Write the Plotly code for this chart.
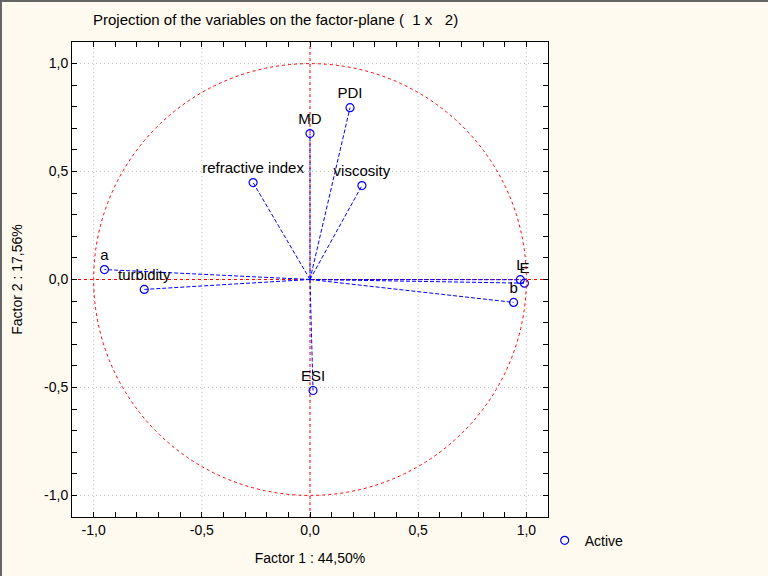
import plotly.graph_objects as go

# variable coordinates on factor 1 x factor 2
var_names = ["a", "turbidity", "refractive index", "MD", "PDI", "viscosity", "ESI", "b", "L", "E"]
factor1 = [-0.95, -0.766, -0.263, 0.0, 0.185, 0.24, 0.014, 0.941, 0.972, 0.991]
factor2 = [0.046, -0.046, 0.449, 0.676, 0.796, 0.435, -0.514, -0.106, -0.001, -0.017]

grid_vals = [-1.0, -0.5, 0.0, 0.5, 1.0]
tick_vals = [-1.0, -0.9, -0.8, -0.7, -0.6, -0.5, -0.4, -0.3, -0.2, -0.1, 0.0,
             0.1, 0.2, 0.3, 0.4, 0.5, 0.6, 0.7, 0.8, 0.9, 1.0]
tick_text = ["-1,0", "", "", "", "", "-0,5", "", "", "", "", "0,0",
             "", "", "", "", "0,5", "", "", "", "", "1,0"]

font = "Liberation Sans, Arial, sans-serif"
blue = "#0000ff"
grid_line = {"color": "#c0c0c0", "width": 1, "dash": "1px,3px"}

fig = go.Figure()

# dotted grid at the labelled ticks
for g in grid_vals:
  fig.add_trace(go.Scatter(x=[g, g], y=[-1.1, 1.1], mode="lines", line=grid_line,
                           showlegend=False, hoverinfo="skip"))
  fig.add_trace(go.Scatter(x=[-1.1, 1.1], y=[g, g], mode="lines", line=grid_line,
                           showlegend=False, hoverinfo="skip"))

# axes through the origin
fig.add_trace(go.Scatter(x=[0, 0], y=[-1.1, 1.1], mode="lines",
                         line={"color": "red", "width": 1, "dash": "dot"},
                         showlegend=False, hoverinfo="skip"))
fig.add_trace(go.Scatter(x=[-1.1, 1.1], y=[0, 0], mode="lines",
                         line={"color": "red", "width": 1, "dash": "dot"},
                         showlegend=False, hoverinfo="skip"))

# dashed vectors from origin
for name, fx, fy in zip(var_names, factor1, factor2):
  fig.add_trace(go.Scatter(x=[0, fx], y=[0, fy], mode="lines",
                           line={"color": blue, "width": 1, "dash": "4px,2px"},
                           showlegend=False, hoverinfo="skip"))

fig.add_trace(go.Scatter(x=factor1, y=factor2, mode="markers+text", name="Active",
                         text=var_names, textposition="top center",
                         textfont={"family": font, "size": 15, "color": "black"},
                         marker={"symbol": "circle-open", "color": blue, "size": 8,
                                 "line": {"width": 1.2, "color": blue}}))

axis_common = dict(
  range=[-1.1, 1.1], tickmode="array", tickvals=tick_vals, ticktext=tick_text,
  showgrid=False, zeroline=False, showline=True, linecolor="black", linewidth=1,
  mirror="allticks", ticks="inside", ticklen=5, tickcolor="black",
  tickfont={"family": font, "size": 14, "color": "black"},
)

fig.update_xaxes(**axis_common, title={"text": "Factor 1 : 44,50%", "standoff": 16,
                                       "font": {"family": font, "size": 14, "color": "black"}})
fig.update_yaxes(**axis_common, title={"text": "Factor 2 : 17,56%", "standoff": 18,
                                       "font": {"family": font, "size": 14, "color": "black"}})

fig.add_shape(type="circle", xref="x", yref="y", x0=-1, y0=-1, x1=1, y1=1,
              line={"color": "red", "width": 1, "dash": "dot"})

# window frame (top and left)
fig.add_shape(type="line", xref="paper", yref="paper", x0=-0.1513, x1=1.4622, y0=1.0863, y1=1.0863,
              line={"color": "#646464", "width": 2})
fig.add_shape(type="line", xref="paper", yref="paper", x0=-0.1492, x1=-0.1492, y0=-0.13, y1=1.09,
              line={"color": "#646464", "width": 2})

fig.update_layout(
  template="none",
  width=768, height=576,
  margin={"l": 72, "r": 220, "t": 42, "b": 59},
  paper_bgcolor="#fffaf0", plot_bgcolor="white",
  title={"text": "Projection of the variables on the factor-plane (  1 x   2)",
         "x": 93 / 768, "xanchor": "left", "y": 1 - 20 / 576, "yanchor": "middle",
         "font": {"family": "Liberation Sans Narrow, Liberation Sans, Arial", "size": 15, "color": "black"}},
  showlegend=True,
  legend={"x": 0.993, "xanchor": "left", "y": -0.05, "yanchor": "middle",
          "bgcolor": "rgba(0,0,0,0)", "font": {"family": font, "size": 14, "color": "black"}},
)

fig.write_html("out.html", config={"displayModeBar": False},
               post_script="document.body.style.margin='0';")
